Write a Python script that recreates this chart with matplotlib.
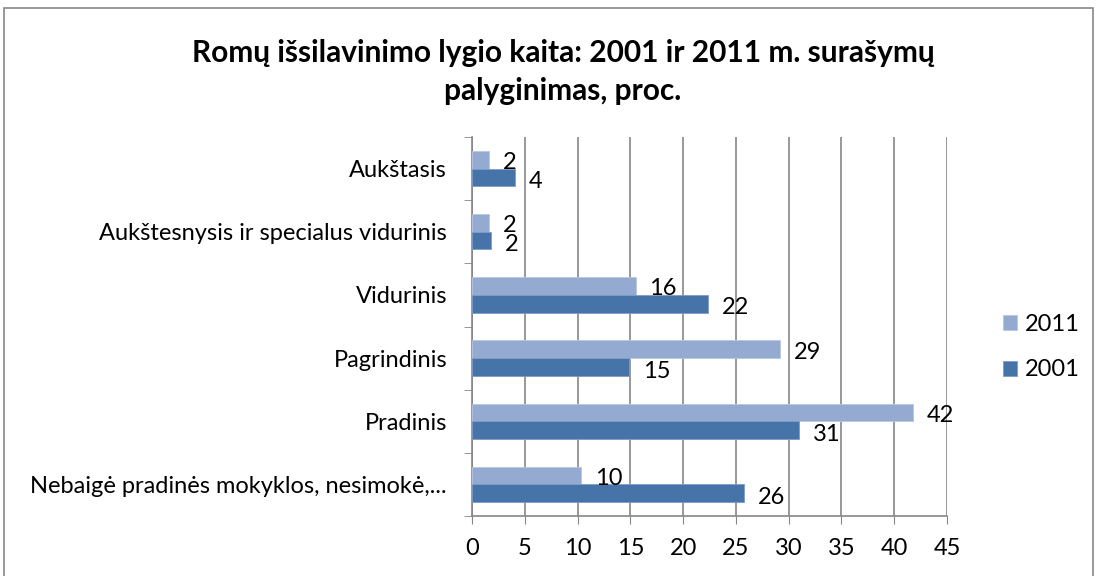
import matplotlib.pyplot as plt
from matplotlib.patches import Rectangle
import numpy as np

plt.rcParams['font.family'] = ['Lato', 'DejaVu Sans']

# categories top to bottom
categories = ['Aukštasis', 'Aukštesnysis ir specialus vidurinis', 'Vidurinis',
              'Pagrindinis', 'Pradinis', 'Nebaigė pradinės mokyklos, nesimokė,...']
vals_2011 = [1.6, 1.6, 15.5, 29.2, 41.8, 10.3]
vals_2001 = [4.1, 1.8, 22.4, 14.9, 31.0, 25.8]
xticks = [0, 5, 10, 15, 20, 25, 30, 35, 40, 45]

c2011 = '#95aad0'
c2001 = '#4673a8'
fs = 17

fig = plt.figure(figsize=(10.98, 5.76), dpi=100)
ax = fig.add_axes([472/1098, 1 - 516/576, (947 - 472)/1098, (516 - 137)/576])

n = len(categories)
y = np.arange(n)[::-1]  # first category at top
h = 0.28
ax.barh(y + h/2, vals_2011, height=h, color=c2011, edgecolor='#b8c6e0', linewidth=0.6, label='2011', zorder=3)
ax.barh(y - h/2, vals_2001, height=h, color=c2001, edgecolor='#7d9cc6', linewidth=0.6, label='2001', zorder=3)

for yi, v in zip(y, vals_2011):
    ax.annotate('%d' % round(v), (v, yi + h/2), xytext=(10, -2), textcoords='offset points',
                va='center', ha='left', fontsize=fs)
for yi, v in zip(y, vals_2001):
    ax.annotate('%d' % round(v), (v, yi - h/2), xytext=(10, -3), textcoords='offset points',
                va='center', ha='left', fontsize=fs)

ax.set_xlim(0, 45)
ax.set_ylim(-0.5, n - 0.5)
ax.set_xticks(xticks)
ax.set_xticklabels([str(t) for t in xticks], fontsize=fs)
ax.set_yticks(y)
ax.set_yticklabels(categories, fontsize=fs)
ax.set_yticks(np.arange(n + 1) - 0.5, minor=True)
ax.tick_params(axis='y', which='major', length=0, pad=18)
ax.tick_params(axis='y', which='minor', length=6, color='#868686', direction='out')
ax.tick_params(axis='x', length=6, color='#868686', direction='out', pad=10)
ax.grid(axis='x', color='#868686', linewidth=1.2, zorder=0)
for s in ['top', 'right']:
    ax.spines[s].set_visible(False)
for s in ['left', 'bottom']:
    ax.spines[s].set_color('#868686')
    ax.spines[s].set_linewidth(1.2)

handles, labels = ax.get_legend_handles_labels()
fig.legend(handles, labels, loc='center left', bbox_to_anchor=(982/1098, 1 - 347/576),
           frameon=False, fontsize=fs, handlelength=0.6, handleheight=0.6,
           labelspacing=1.05, handletextpad=0.3)

fig.text(563/1098, 1 - 72/576, 'Romų išsilavinimo lygio kaita: 2001 ir 2011 m. surašymų\npalyginimas, proc.',
         ha='center', va='center', fontsize=21.5, fontweight='bold', linespacing=1.4)

fig.patches.append(Rectangle((4/1098, -0.01), (1093 - 4)/1098, 1.01 - 8/576,
                             transform=fig.transFigure, fill=False, edgecolor='#868686', linewidth=1.2))

fig.savefig('out.png', dpi=100)
